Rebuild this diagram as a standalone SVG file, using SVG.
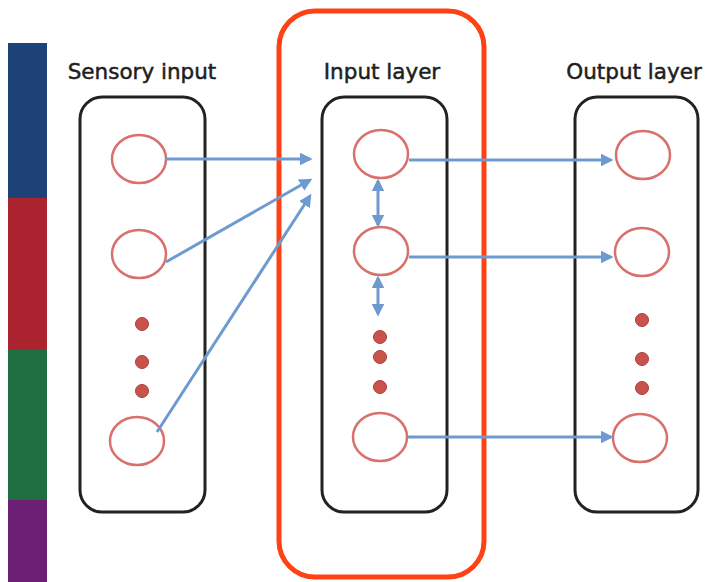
<svg xmlns="http://www.w3.org/2000/svg" width="706" height="582" viewBox="0 0 706 582">
<defs>
<style>
.box{fill:none;stroke:#222;stroke-width:3}
.n{fill:#fff;stroke:#d9706b;stroke-width:2.5}
.d{fill:#c9534c;stroke:#a8403b;stroke-width:1}
.lbl{font-family:"DejaVu Sans","Liberation Sans",sans-serif;font-size:21.5px;fill:#1e1e1e;stroke:#1e1e1e;stroke-width:0.5;text-anchor:middle}
.c{fill:none;stroke:#6d9bd0;stroke-width:3}
</style>
<marker id="ah" viewBox="0 0 10 10" refX="8" refY="5" markerWidth="4.3" markerHeight="4.3" orient="auto-start-reverse" markerUnits="strokeWidth">
<path d="M0,0 L10,5 L0,10 z" fill="#6d9bd0"/>
</marker>
</defs>
<rect width="706" height="582" fill="#fff"/>
<g id="colorbar">
<rect x="8" y="43" width="39" height="155" fill="#1c4278"/>
<rect x="8" y="198" width="39" height="151" fill="#ab232f"/>
<rect x="8" y="349" width="39" height="151" fill="#1e6e42"/>
<rect x="8" y="500" width="39" height="82" fill="#6a1e74"/>
</g>
<g id="highlight">
<rect x="279" y="11" width="205" height="566" rx="36" fill="none" stroke="#ff4214" stroke-width="5"/>
</g>
<g id="sensory">
<text class="lbl" x="142" y="79">Sensory input</text>
<rect class="box" x="80" y="97" width="125" height="415" rx="22"/>
<ellipse class="n" cx="139" cy="159" rx="27" ry="24"/>
<ellipse class="n" cx="139" cy="254" rx="27" ry="24"/>
<circle class="d" cx="142" cy="324" r="6.5"/>
<circle class="d" cx="142" cy="362" r="6.5"/>
<circle class="d" cx="142" cy="391" r="6.5"/>
<ellipse class="n" cx="137" cy="441" rx="27" ry="24"/>
</g>
<g id="input">
<text class="lbl" x="382" y="79">Input layer</text>
<rect class="box" x="322" y="97" width="125" height="415" rx="22"/>
<ellipse class="n" cx="381" cy="154" rx="27" ry="24"/>
<ellipse class="n" cx="381" cy="251" rx="27" ry="24"/>
<circle class="d" cx="380" cy="337" r="6.5"/>
<circle class="d" cx="380" cy="357" r="6.5"/>
<circle class="d" cx="380" cy="387" r="6.5"/>
<ellipse class="n" cx="380" cy="437" rx="27" ry="24"/>
</g>
<g id="output">
<text class="lbl" x="634" y="79">Output layer</text>
<rect class="box" x="575" y="97" width="123" height="415" rx="22"/>
<ellipse class="n" cx="643" cy="155" rx="27" ry="24"/>
<ellipse class="n" cx="642" cy="252" rx="27" ry="24"/>
<circle class="d" cx="642" cy="320" r="6.5"/>
<circle class="d" cx="642" cy="359" r="6.5"/>
<circle class="d" cx="642" cy="388" r="6.5"/>
<ellipse class="n" cx="640" cy="438" rx="27" ry="24"/>
</g>
<g id="connectors">
<line class="c" x1="166" y1="159" x2="310" y2="159" marker-end="url(#ah)"/>
<line class="c" x1="166" y1="262" x2="310" y2="180" marker-end="url(#ah)"/>
<line class="c" x1="157" y1="432" x2="310" y2="196" marker-end="url(#ah)"/>
<line class="c" x1="409" y1="160" x2="611" y2="160" marker-end="url(#ah)"/>
<line class="c" x1="409" y1="257" x2="611" y2="257" marker-end="url(#ah)"/>
<line class="c" x1="408" y1="437" x2="611" y2="437" marker-end="url(#ah)"/>
<line class="c" x1="378" y1="181" x2="378" y2="225" marker-start="url(#ah)" marker-end="url(#ah)"/>
<line class="c" x1="378" y1="278" x2="378" y2="314" marker-start="url(#ah)" marker-end="url(#ah)"/>
</g>
</svg>
